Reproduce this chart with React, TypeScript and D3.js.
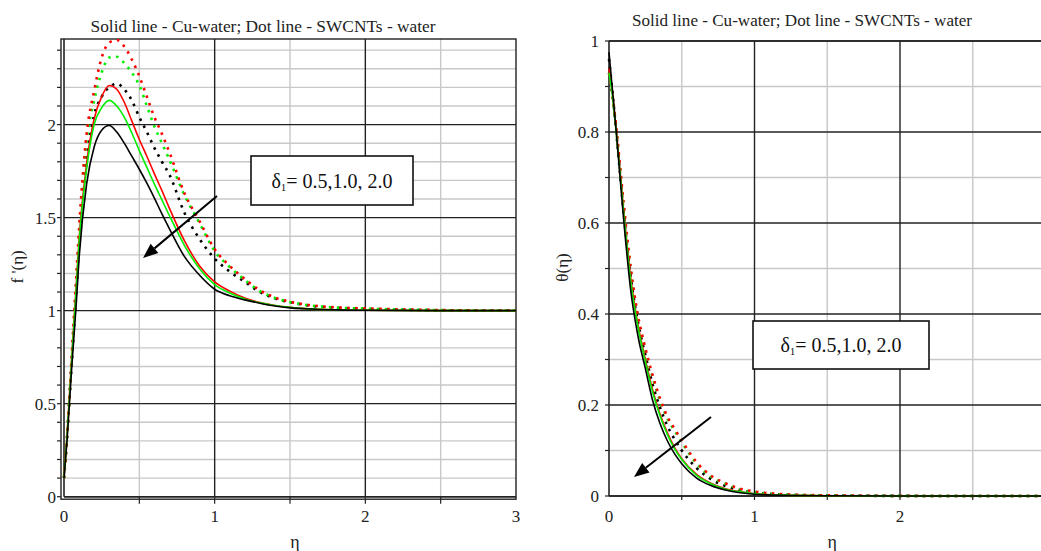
import * as d3 from "d3";

// eta grid for velocity profile f'(eta)
const etaF = [0, 0.02, 0.05, 0.08, 0.1, 0.15, 0.2, 0.25, 0.3, 0.35, 0.4, 0.45, 0.5, 0.55, 0.6, 0.65, 0.7, 0.8, 0.9, 1.0, 1.1, 1.2, 1.3, 1.4, 1.5, 1.6, 1.8, 2.0, 2.5, 3.0];
// Cu-water (solid), delta1 = 0.5, 1.0, 2.0
const cuF05 = [0.1, 0.33, 0.73, 1.12, 1.38, 1.79, 2.03, 2.15, 2.21, 2.19, 2.12, 2.02, 1.92, 1.83, 1.735, 1.645, 1.55, 1.375, 1.24, 1.155, 1.105, 1.068, 1.043, 1.028, 1.018, 1.011, 1.004, 1.002, 1.0, 1.0];
const cuF10 = [0.1, 0.32, 0.72, 1.1, 1.36, 1.76, 2.0, 2.09, 2.13, 2.1, 2.04, 1.955, 1.86, 1.77, 1.68, 1.595, 1.51, 1.35, 1.225, 1.14, 1.095, 1.063, 1.042, 1.028, 1.018, 1.011, 1.004, 1.002, 1.0, 1.0];
const cuF20 = [0.1, 0.3, 0.68, 1.02, 1.28, 1.68, 1.88, 1.97, 1.995, 1.96, 1.9, 1.83, 1.76, 1.685, 1.605, 1.52, 1.44, 1.29, 1.19, 1.115, 1.08, 1.058, 1.04, 1.025, 1.015, 1.01, 1.004, 1.002, 1.0, 1.0];
// SWCNTs-water (dotted)
const swF05 = [0.1, 0.32, 0.74, 1.16, 1.44, 1.95, 2.18, 2.36, 2.44, 2.455, 2.42, 2.35, 2.26, 2.15, 2.04, 1.95, 1.85, 1.63, 1.48, 1.33, 1.24, 1.17, 1.11, 1.07, 1.048, 1.033, 1.018, 1.012, 1.003, 1.0];
const swF10 = [0.1, 0.32, 0.73, 1.14, 1.41, 1.91, 2.13, 2.28, 2.36, 2.365, 2.33, 2.28, 2.21, 2.1, 1.99, 1.9, 1.81, 1.62, 1.47, 1.32, 1.235, 1.165, 1.105, 1.068, 1.046, 1.032, 1.017, 1.011, 1.003, 1.0];
const swF20 = [0.1, 0.31, 0.7, 1.08, 1.35, 1.8, 2.05, 2.15, 2.2, 2.22, 2.19, 2.13, 2.04, 1.96, 1.875, 1.8, 1.73, 1.525, 1.385, 1.28, 1.21, 1.155, 1.1, 1.065, 1.045, 1.03, 1.016, 1.01, 1.002, 1.0];

// eta grid for temperature profile theta(eta)
const etaT = [0, 0.02, 0.05, 0.1, 0.15, 0.2, 0.25, 0.3, 0.35, 0.4, 0.45, 0.5, 0.6, 0.7, 0.8, 0.9, 1.0, 1.2, 1.5, 2.0, 2.5, 3.0];
const cuT05 = [0.94, 0.895, 0.805, 0.63, 0.478, 0.375, 0.3, 0.233, 0.181, 0.14, 0.107, 0.082, 0.048, 0.028, 0.016, 0.009, 0.005, 0.002, 0.0006, 0, 0, 0];
const cuT10 = [0.93, 0.89, 0.8, 0.625, 0.47, 0.37, 0.295, 0.228, 0.177, 0.136, 0.104, 0.08, 0.046, 0.027, 0.015, 0.009, 0.005, 0.002, 0.0006, 0, 0, 0];
const cuT20 = [0.975, 0.905, 0.8, 0.61, 0.45, 0.35, 0.28, 0.21, 0.16, 0.122, 0.093, 0.071, 0.04, 0.023, 0.013, 0.007, 0.004, 0.0015, 0.0005, 0, 0, 0];
const swT05 = [0.93, 0.89, 0.81, 0.645, 0.5, 0.395, 0.325, 0.265, 0.215, 0.175, 0.148, 0.122, 0.075, 0.045, 0.028, 0.016, 0.01, 0.004, 0.0015, 0.0003, 0, 0];
const swT10 = [0.93, 0.885, 0.805, 0.64, 0.495, 0.39, 0.32, 0.26, 0.21, 0.171, 0.144, 0.118, 0.072, 0.043, 0.027, 0.015, 0.009, 0.0035, 0.0013, 0.0003, 0, 0];
const swT20 = [0.96, 0.9, 0.8, 0.625, 0.48, 0.38, 0.31, 0.245, 0.195, 0.155, 0.125, 0.1, 0.062, 0.037, 0.022, 0.013, 0.008, 0.003, 0.001, 0.0002, 0, 0];

const title = "Solid line - Cu-water; Dot line - SWCNTs - water";
const xTicks = [0, 1, 2, 3];
const fTicks = ["0", "0.5", "1", "1.5", "2"];
const tTicks = ["0", "0.2", "0.4", "0.6", "0.8", "1"];

const RED = "#ff0000";
const GREEN = "#00ee00";
const BLACK = "#000000";
const FONT = "Liberation Serif, Times New Roman, Times, DejaVu Serif, serif";

type Series = { ys: number[]; color: string; dotted: boolean };

function Panel({
  x0, x1, yTop, yBot, yMax, xs, series, yMinorStep, yMajor, yLabels, yTitle, frame,
}: {
  x0: number; x1: number; yTop: number; yBot: number; yMax: number; xs: number[];
  series: Series[]; yMinorStep: number; yMajor: number[]; yLabels: string[]; yTitle: string; frame: boolean;
}) {
  const x = d3.scaleLinear().domain([0, 3]).range([x0, x1]);
  const y = d3.scaleLinear().domain([0, yMax]).range([yBot, yTop]);
  const line = d3.line<number>().x((_, i) => x(xs[i])).y((d) => y(d)).curve(d3.curveMonotoneX);
  const minorY = d3.range(0, yMax + 1e-9, yMinorStep).filter((v) => !yMajor.some((m) => Math.abs(m - v) < 1e-6));
  const minorX = [0.5, 1.5, 2.5];
  const right = Math.min(x1, 1041);
  return (
    <g style={{ fontFamily: FONT }}>
      {minorY.map((v) => (
        <line key={"my" + v} x1={x0} x2={right} y1={y(v)} y2={y(v)} stroke="#c8c8c8" strokeWidth={1.4} />
      ))}
      {minorX.map((v) => (
        <line key={"mx" + v} x1={x(v)} x2={x(v)} y1={yTop} y2={yBot} stroke="#c8c8c8" strokeWidth={1.4} />
      ))}
      {yMajor.map((v) => (
        <line key={"My" + v} x1={x0} x2={right} y1={y(v)} y2={y(v)} stroke="#222" strokeWidth={1.4} />
      ))}
      {[1, 2].map((v) => (
        <line key={"Mx" + v} x1={x(v)} x2={x(v)} y1={yTop} y2={yBot} stroke="#222" strokeWidth={1.4} />
      ))}
      {frame && (
        <rect x={x0 - 3} y={yTop} width={x1 - x0 + 3} height={yBot - yTop + 2.5} fill="none" stroke="#222" strokeWidth={1.4} />
      )}
      {!frame && <line x1={x0} x2={right} y1={yTop} y2={yTop} stroke="#222" strokeWidth={1.4} />}
      <line x1={x0} x2={x0} y1={yTop} y2={yBot} stroke="#222" strokeWidth={1.6} />
      <line x1={x0} x2={right} y1={yBot} y2={yBot} stroke="#222" strokeWidth={1.6} />
      {d3.range(0, yMax + 1e-9, yMinorStep).map((v) => (
        <line key={"ty" + v} x1={x0 - (frame ? 7 : 4)} x2={x0 - (frame ? 3 : 0)} y1={y(v)} y2={y(v)} stroke="#222" strokeWidth={1.2} />
      ))}
      {[0.5, 1, 1.5, 2, 2.5].map((v) => (
        <line key={"tx" + v} x1={x(v)} x2={x(v)} y1={yBot} y2={yBot + (frame ? 7 : 4)} stroke="#222" strokeWidth={1.2} />
      ))}
      {yMajor.map((v, i) => (
        <text key={"ly" + v} x={x0 - (frame ? 8 : 10)} y={y(v) + 6} textAnchor="end" fontSize={17} fill="#222">
          {yLabels[i]}
        </text>
      ))}
      {xTicks.map((v) => (
        <text key={"lx" + v} x={x(v)} y={522} textAnchor="middle" fontSize={17} fill="#222">
          {v}
        </text>
      ))}
      <text x={(x0 + (frame ? x1 : x(3))) / 2 + 5} y={548} textAnchor="middle" fontSize={18} fill="#222">η</text>
      <text transform={`translate(${x0 - 41},${(yTop + yBot) / 2 - 1}) rotate(-90)`} textAnchor="middle" fontSize={17} fill="#222">
        {yTitle}
      </text>
      {series.map((s, i) => (
        <path
          key={i}
          d={line(s.ys) || ""}
          fill="none"
          stroke={s.color}
          strokeWidth={s.dotted ? 2.6 : 1.6}
          strokeDasharray={s.dotted ? "2.5 5.5" : undefined}
        />
      ))}
    </g>
  );
}

function Legend({ x, y, w, h }: { x: number; y: number; w: number; h: number }) {
  return (
    <g style={{ fontFamily: FONT }}>
      <rect x={x} y={y} width={w} height={h} fill="#fff" stroke="#111" strokeWidth={1.6} />
      <text x={x + w / 2} y={y + h / 2 + 7} textAnchor="middle" fontSize={20} fill="#111">
        δ<tspan fontSize={11} dy={3}>1</tspan>
        <tspan dy={-3}>= 0.5,1.0, 2.0</tspan>
      </text>
    </g>
  );
}

function Arrow({ x1, y1, x2, y2 }: { x1: number; y1: number; x2: number; y2: number }) {
  const a = Math.atan2(y2 - y1, x2 - x1);
  const L = 15, W = 6;
  const bx = x2 - L * Math.cos(a), by = y2 - L * Math.sin(a);
  const p = [
    [x2, y2],
    [bx + W * Math.sin(a), by - W * Math.cos(a)],
    [bx - W * Math.sin(a), by + W * Math.cos(a)],
  ];
  return (
    <g>
      <line x1={x1} y1={y1} x2={bx} y2={by} stroke="#000" strokeWidth={2} />
      <polygon points={p.map((q) => q.join(",")).join(" ")} fill="#000" />
    </g>
  );
}

export default function App() {
  const fSeries: Series[] = [
    { ys: swF20, color: BLACK, dotted: true },
    { ys: swF10, color: GREEN, dotted: true },
    { ys: swF05, color: RED, dotted: true },
    { ys: cuF05, color: RED, dotted: false },
    { ys: cuF10, color: GREEN, dotted: false },
    { ys: cuF20, color: BLACK, dotted: false },
  ];
  const tSeries: Series[] = [
    { ys: swT20, color: BLACK, dotted: true },
    { ys: swT10, color: GREEN, dotted: true },
    { ys: swT05, color: RED, dotted: true },
    { ys: cuT05, color: RED, dotted: false },
    { ys: cuT10, color: GREEN, dotted: false },
    { ys: cuT20, color: BLACK, dotted: false },
  ];
  return (
    <svg width={1041} height={551} style={{ position: "absolute", left: 0, top: 0, background: "#fff" }}>
      <rect width={1041} height={551} fill="#fff" />
      <Panel
        x0={64} x1={516} yTop={39} yBot={496.7} yMax={2.46} xs={etaF} series={fSeries}
        yMinorStep={0.1} yMajor={[0, 0.5, 1, 1.5, 2]} yLabels={fTicks} yTitle="f '(η)" frame={true}
      />
      <Panel
        x0={609} x1={1045.5} yTop={41} yBot={496} yMax={1} xs={etaT} series={tSeries}
        yMinorStep={0.1} yMajor={[0, 0.2, 0.4, 0.6, 0.8, 1]} yLabels={tTicks} yTitle="θ(η)" frame={false}
      />
      <g style={{ fontFamily: FONT }}>
        <text x={263} y={32} textAnchor="middle" fontSize={17} textLength={345} lengthAdjust="spacingAndGlyphs" fill="#222">
          {title}
        </text>
        <text x={802} y={26} textAnchor="middle" fontSize={17} textLength={340} lengthAdjust="spacingAndGlyphs" fill="#222">
          {title}
        </text>
      </g>
      <Legend x={251} y={156} w={162} h={49} />
      <Legend x={753} y={321} w={176} h={48} />
      <Arrow x1={217} y1={196} x2={143} y2={258} />
      <Arrow x1={711} y1={417} x2={634} y2={477} />
    </svg>
  );
}
